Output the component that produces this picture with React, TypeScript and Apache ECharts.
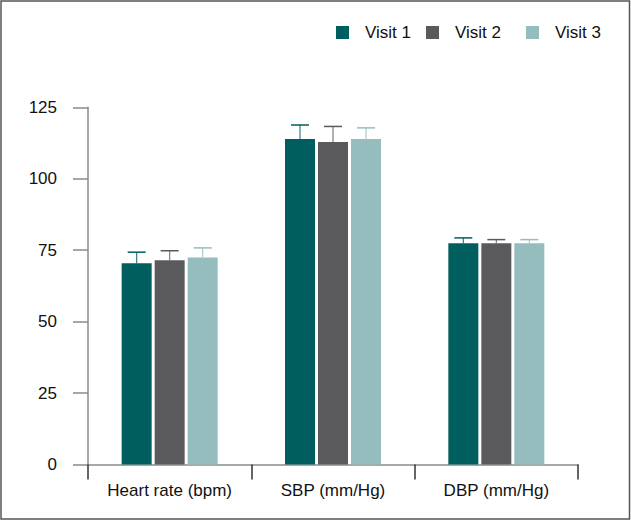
import React, { useEffect, useRef } from "react";
import * as echarts from "echarts";

const categories = ["Heart rate (bpm)", "SBP (mm/Hg)", "DBP (mm/Hg)"];
const seriesNames = ["Visit 1", "Visit 2", "Visit 3"];
const visit1 = [70.4, 113.9, 77.4];
const visit2 = [71.5, 112.9, 77.4];
const visit3 = [72.4, 113.9, 77.4];
const visit1Err = [3.9, 4.9, 1.9];
const visit2Err = [3.3, 5.4, 1.3];
const visit3Err = [3.4, 3.9, 1.3];
const yTicks = { min: 0, max: 125, interval: 25 };

const colors = ["#005E5E", "#5A5A5C", "#95BDBE"];
const legendLefts = [336, 426, 526];
const BAR_W = 30;
const BAR_GAP = 3;
const FONT = "'Liberation Sans', Arial, sans-serif";

export default function App() {
  const ref = useRef<HTMLDivElement>(null);
  useEffect(() => {
    if (!ref.current) return;
    const chart = echarts.init(ref.current, undefined, { renderer: "svg" });
    const values = [visit1, visit2, visit3];
    const errs = [visit1Err, visit2Err, visit3Err];

    const barSeries = values.map((vals, si) => ({
      name: seriesNames[si],
      type: "bar",
      data: vals,
      barWidth: BAR_W,
      barGap: `${(BAR_GAP / BAR_W) * 100}%`,
      itemStyle: { color: colors[si] },
    }));

    const errSeries = values.map((vals, si) => ({
      name: seriesNames[si] + " error",
      type: "custom",
      data: vals.map((v, i) => [i, v, v + errs[si][i]]),
      z: 3,
      renderItem: (params: any, api: any) => {
        const idx = api.value(0);
        const base = api.coord([idx, api.value(1)]);
        const top = api.coord([idx, api.value(2)]);
        const off = (si - 1) * (BAR_W + BAR_GAP);
        const x = base[0] + off;
        const half = 9;
        const style = { stroke: colors[si], lineWidth: 1.5 };
        return {
          type: "group",
          children: [
            { type: "line", shape: { x1: x, y1: base[1], x2: x, y2: top[1] }, style: { ...style, lineWidth: 1.2, opacity: 0.8 } },
            { type: "line", shape: { x1: x - half, y1: top[1], x2: x + half, y2: top[1] }, style },
          ],
        };
      },
    }));

    const legends = seriesNames.map((n, i) => ({
      data: [n],
      left: legendLefts[i],
      top: 24,
      padding: 0,
      icon: "rect",
      itemWidth: 13,
      itemHeight: 13,
      textStyle: { fontSize: 17, color: "#111", fontFamily: FONT, padding: [0, 0, 0, 11] },
    }));

    chart.setOption({
      animation: false,
      textStyle: { fontFamily: FONT },
      grid: { left: 88, right: 53, top: 107.3, bottom: 57.5, containLabel: false, outerBoundsMode: "none" },
      legend: legends,
      xAxis: {
        type: "category",
        data: categories,
        axisLine: { lineStyle: { color: "#8a8a8a", width: 1.5 } },
        axisTick: { show: true, length: 15, lineStyle: { color: "#333", width: 1.5 } },
        axisLabel: { fontSize: 17, color: "#111", margin: 17, fontFamily: FONT },
      },
      yAxis: {
        type: "value",
        min: yTicks.min,
        max: yTicks.max,
        interval: yTicks.interval,
        splitLine: { show: false },
        axisLine: { show: true, lineStyle: { color: "#8a8a8a", width: 1.5 } },
        axisTick: { show: true, length: 15, lineStyle: { color: "#8a8a8a", width: 1.5 } },
        axisLabel: { fontSize: 17, color: "#111", margin: 31, fontFamily: FONT },
      },
      graphic: [
        {
          type: "rect",
          shape: { x: 1, y: 1, width: 628.5, height: 518 },
          style: { fill: "none", stroke: "#555", lineWidth: 1.5 },
          z: 100,
        },
      ],
      series: [...barSeries, ...errSeries],
    });
    return () => chart.dispose();
  }, []);
  return (
    <div
      ref={ref}
      style={{ position: "fixed", left: 0, top: 0, width: 631, height: 522, background: "#fff" }}
    />
  );
}
